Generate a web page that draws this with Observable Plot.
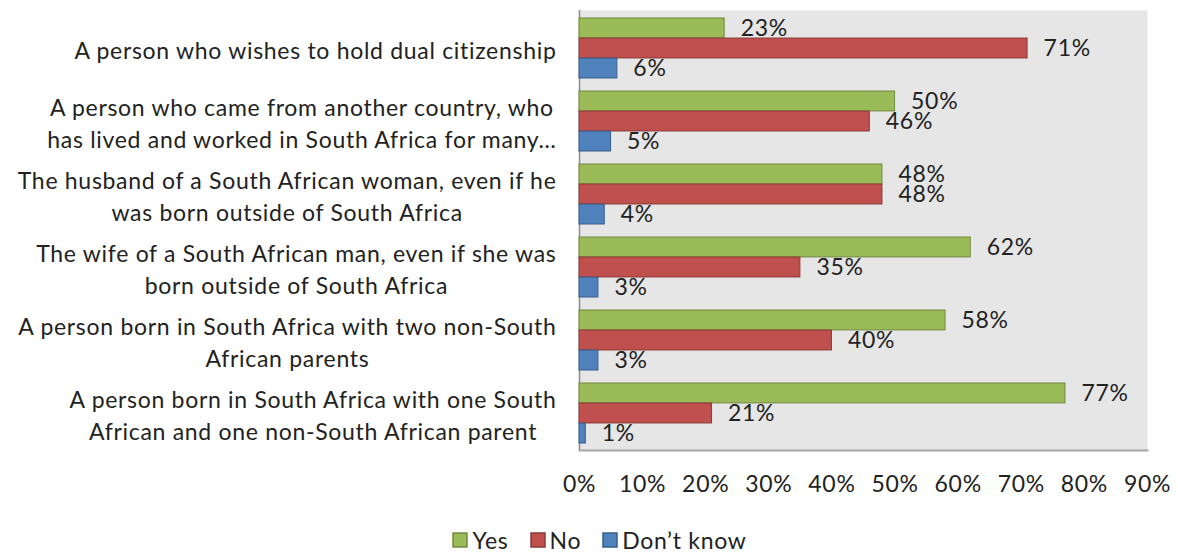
<!DOCTYPE html>
<html><head><meta charset="utf-8">
<script src="https://cdn.jsdelivr.net/npm/d3@7"></script>
<script src="https://cdn.jsdelivr.net/npm/@observablehq/plot@0.6"></script>
<style>
body{margin:0;background:#fff;font-family:Lato,"Open Sans",sans-serif;color:#222;}
#chart{width:1178px;position:relative;}
#legend{position:absolute;left:22px;top:523px;width:1178px;}
#legend > div{justify-content:center !important;font-size:23px !important;letter-spacing:0.7px;color:#222;font-family:Lato,sans-serif !important;margin:0 !important;}
#legend .plot-swatch, #legend span{margin-right:22px;}
#legend svg{margin-right:5px !important;}
#legend svg rect{stroke-width:1.5px;}
</style></head><body><div id="chart"></div><div id="legend"></div><script>
const categories = [
  "A person who wishes to hold dual citizenship",
  "A person who came from another country, who\nhas lived and worked in South Africa for many…",
  "The husband of a South African woman, even if he\nwas born outside of South Africa",
  "The wife of a South African man, even if she was\nborn outside of South Africa",
  "A person born in South Africa with two non-South\nAfrican parents",
  "A person born in South Africa with one South\nAfrican and one non-South African parent"
];
const series = ["Yes", "No", "Don’t know"];
const yesValues = [23, 50, 48, 62, 58, 77];
const noValues = [71, 46, 48, 35, 40, 21];
const dontKnowValues = [6, 5, 4, 3, 3, 1];
const xTicks = [0, 10, 20, 30, 40, 50, 60, 70, 80, 90];
const colors = ["#9BBB59", "#C0504D", "#4F81BD"];
const strokes = ["#71893F", "#8C3836", "#385D8A"];

const seriesValues = [yesValues, noValues, dontKnowValues];
const rows = categories.flatMap((c, i) => series.map((s, k) => ({category: c, series: s, k, value: seriesValues[k][i]})));

const W = 1178, H = 510, mt = 10, mb = 60, ml = 579, mr = 31;
const pInner = 0.18, pOuter = 0.09;
const step = (H - mt - mb) / (categories.length - pInner + 2 * pOuter);
const bw = step * (1 - pInner);
const third = bw / 3;

const barMarks = series.map((s, k) => Plot.barX(rows.filter(d => d.k === k), {
  x: "value", y: "category", fill: colors[k], stroke: strokes[k], strokeWidth: 1,
  insetTop: k * third, insetBottom: (2 - k) * third
}));
const textMarks = series.map((s, k) => Plot.text(rows.filter(d => d.k === k), {
  x: "value", y: "category", text: d => d.value + "%", textAnchor: "start",
  dx: 16, dy: (k - 1) * third, fill: "#222"
}));

const plot = Plot.plot({
  width: W, height: H, marginTop: mt, marginBottom: mb, marginLeft: ml, marginRight: mr,
  style: {fontSize: "23px", letterSpacing: "0.7px", fontFamily: "Lato, 'Open Sans', sans-serif", color: "#222", background: "#fff"},
  x: {domain: [0, 90]},
  y: {domain: categories, paddingInner: pInner, paddingOuter: pOuter},
  marks: [
    Plot.frame({fill: "#e6e6e6", stroke: null}),
    Plot.frame({anchor: "bottom", stroke: "#a6a6a6", strokeWidth: 2}),
    Plot.ruleX([0], {stroke: "#8c8c8c", strokeWidth: 1.5}),
    ...barMarks,
    ...textMarks,
    Plot.axisX({ticks: xTicks, tickFormat: d => d + "%", tickSize: 0, tickPadding: 25, label: null, fill: "#222"}),
    Plot.axisY({tickSize: 0, tickPadding: 23, label: null, lineHeight: 1.4, fill: "#222"})
  ]
});
document.getElementById("chart").appendChild(plot);

// Excel-style centred multi-line category labels
plot.querySelectorAll('g[aria-label="y-axis tick label"] text').forEach(t => {
  const w = t.getBBox().width;
  t.setAttribute("text-anchor", "middle");
  t.setAttribute("transform", (t.getAttribute("transform") || "") + ` translate(${-w / 2},0)`);
});

const legend = Plot.legend({color: {domain: series, range: colors}, legend: "swatches", swatchSize: 14});
document.getElementById("legend").appendChild(legend);
legend.querySelectorAll("svg").forEach((s, i) => {
  const r = s.querySelector("rect");
  if (r) r.setAttribute("stroke", strokes[i]);
});
</script></body></html>
